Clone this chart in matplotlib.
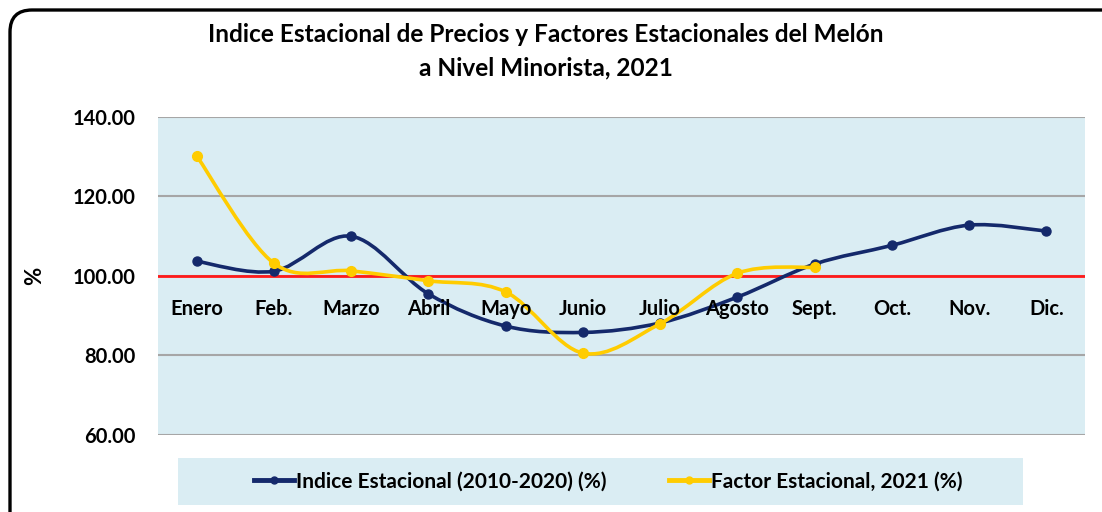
import numpy as np
import matplotlib.pyplot as plt
from matplotlib.path import Path
from matplotlib.patches import PathPatch, FancyBboxPatch, Rectangle
from matplotlib.lines import Line2D

plt.rcParams['font.family'] = ['Lato', 'DejaVu Sans']
plt.rcParams['font.weight'] = 'bold'

# Data
meses = ["Enero", "Feb.", "Marzo", "Abril", "Mayo", "Junio",
         "Julio", "Agosto", "Sept.", "Oct.", "Nov.", "Dic."]
indice = [103.7, 101.2, 110.0, 95.5, 87.4, 85.8, 88.2, 94.7, 103.0, 107.7, 112.8, 111.3]
factor = [130.2, 103.2, 101.3, 98.8, 96.0, 80.6, 88.0, 100.7, 102.2]
y_ticks = [60, 80, 100, 120, 140]

navy = "#14296B"
yellow = "#FFCC00"
bg = "#DAEDF3"


def smooth_path(xs, ys):
    # Excel-style smoothed line: cubic Bezier through the points
    p = np.column_stack([xs, ys]).astype(float)
    n = len(p)
    verts = [p[0]]
    codes = [Path.MOVETO]
    for i in range(n - 1):
        p0 = p[i - 1] if i > 0 else p[i]
        p3 = p[i + 2] if i + 2 < n else p[i + 1]
        c1 = p[i] + (p[i + 1] - p0) / 6
        c2 = p[i + 1] - (p3 - p[i]) / 6
        verts += [c1, c2, p[i + 1]]
        codes += [Path.CURVE4] * 3
    return Path(verts, codes)


fig = plt.figure(figsize=(11.02, 5.12), dpi=100)

# rounded border of the chart area
border = FancyBboxPatch((10, -30), 1120, 532, boxstyle="round,pad=0,rounding_size=22",
                        transform=None, facecolor="none", edgecolor="black", linewidth=2.4)
fig.patches.append(border)

ax = fig.add_axes([0.1434, 0.1504, 0.8412, 0.6211])
ax.set_facecolor(bg)
ax.set_xlim(-0.5, 11.5)
ax.set_ylim(60, 140)
for s in ax.spines.values():
    s.set_visible(False)
for t in y_ticks:
    ax.axhline(t, color="#A6A6A6", linewidth=1.5, zorder=1)
ax.axhline(100, color="#FF1A1A", linewidth=2.0, zorder=2)

ax.set_yticks(y_ticks)
ax.set_yticklabels([f"{v:.2f}" for v in y_ticks], fontsize=14.5, fontweight="bold")
ax.tick_params(axis="y", length=0, pad=16)
ax.set_xticks([])
ax.set_ylabel("%", fontsize=16, fontweight="bold", labelpad=20)

x_ind = np.arange(len(indice))
x_fac = np.arange(len(factor))

ax.add_patch(PathPatch(smooth_path(x_ind, indice), facecolor="none", edgecolor=navy,
                       linewidth=2.6, zorder=3, capstyle="round"))
ax.plot(x_ind, indice, "o", color=navy, markersize=6.5, zorder=4)

ax.add_patch(PathPatch(smooth_path(x_fac, factor), facecolor="none", edgecolor=yellow,
                       linewidth=2.6, zorder=5, capstyle="round"))
ax.plot(x_fac, factor, "o", color=yellow, markersize=7, zorder=6)

for i, m in enumerate(meses):
    ax.text(i, 91.8, m, ha="center", va="center", fontsize=14.5, fontweight="bold", zorder=7)

fig.text(0.495, 0.9, "Indice Estacional de Precios y Factores Estacionales del Melón\na Nivel Minorista, 2021",
         ha="center", va="center", fontsize=17.6, fontweight="bold", linespacing=1.55)

# legend box
fig.patches.append(Rectangle((178 / 1102, 7 / 512), 845 / 1102, 47 / 512,
                             transform=fig.transFigure, facecolor=bg, edgecolor="none"))
handles = [Line2D([], [], color=navy, linewidth=3.5, marker="o", markersize=5),
           Line2D([], [], color=yellow, linewidth=3.5, marker="o", markersize=5)]
fig.legend(handles, ["Indice Estacional (2010-2020) (%)", "Factor Estacional, 2021 (%)"],
           loc="center", bbox_to_anchor=(0.552, 0.06), ncol=2, frameon=False,
           prop={"size": 15, "weight": "bold"}, handlelength=1.9, handletextpad=0.1,
           columnspacing=3.0, markerscale=1)

fig.savefig("out.png", dpi=100)
